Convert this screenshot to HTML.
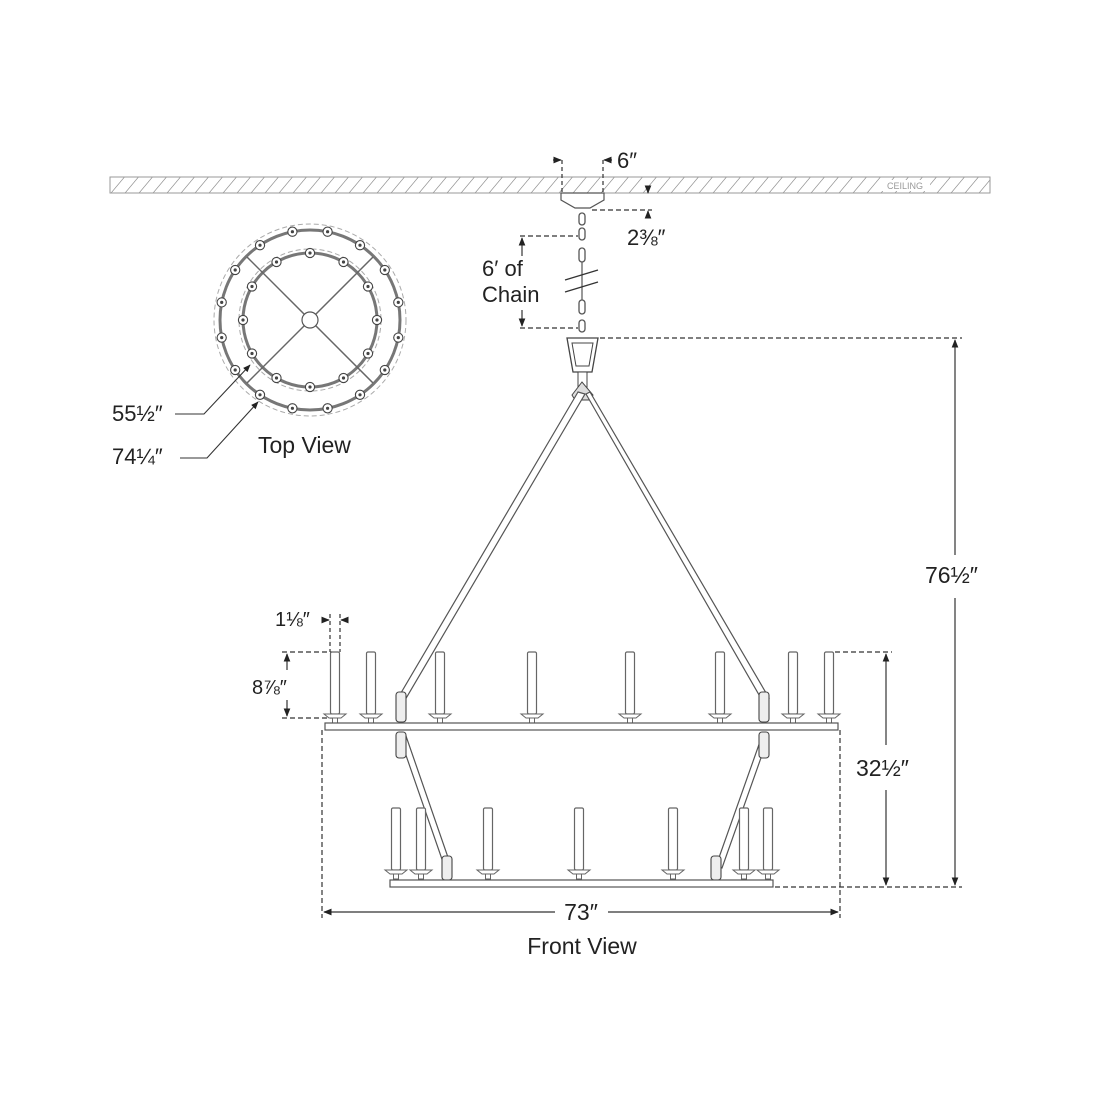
<!DOCTYPE html>
<html><head><meta charset="utf-8"><style>
html,body{margin:0;padding:0;background:#fff;width:1100px;height:1100px;overflow:hidden}
text{font-family:"Liberation Sans",sans-serif;fill:#222}
</style></head><body>
<svg width="1100" height="1100" viewBox="0 0 1100 1100" xmlns="http://www.w3.org/2000/svg">
<defs>
<pattern id="hatch" width="14" height="16" patternUnits="userSpaceOnUse" patternTransform="skewX(-40)">
<line x1="7" y1="0" x2="7" y2="16" stroke="#999" stroke-width="1"/>
</pattern>
<marker id="ar" viewBox="0 0 10 10" refX="9" refY="5" markerWidth="7" markerHeight="7" orient="auto-start-reverse"><path d="M0,1 L10,5 L0,9 z" fill="#222"/></marker>
<g id="candle"><rect x="-4.5" y="0" width="9" height="62" rx="1.5" fill="#fff" stroke="#666" stroke-width="1.2"/><path d="M-11,62 L11,62 L6,66 L-6,66 Z" fill="#fff" stroke="#666" stroke-width="1"/><rect x="-2.5" y="66" width="5" height="5" fill="#fff" stroke="#666" stroke-width="1"/></g>
<g id="bulb"><circle r="4.6" fill="#fff" stroke="#444" stroke-width="1.1"/><circle r="1.6" fill="#444"/></g>
</defs>

<rect x="110" y="177" width="880" height="16" fill="url(#hatch)" stroke="#999" stroke-width="1"/>
<rect x="880" y="180" width="50" height="11" fill="#fff"/>
<text x="905" y="189" font-size="9" text-anchor="middle" style="fill:#999">CEILING</text>

<g stroke="#333" stroke-width="1.2" fill="none">
<line x1="562" y1="160" x2="562" y2="193" stroke-dasharray="4,3"/>
<line x1="603" y1="160" x2="603" y2="193" stroke-dasharray="4,3"/>
<line x1="553" y1="160" x2="561" y2="160" marker-end="url(#ar)"/>
<line x1="612" y1="160" x2="604" y2="160" marker-end="url(#ar)"/>
<path d="M561,193 L604,193 L604,200 L590,208 L575,208 L561,200 Z" fill="#fff" stroke="#555"/>
<line x1="592" y1="210" x2="652" y2="210" stroke-dasharray="5,3"/>
<line x1="648" y1="186" x2="648" y2="193" marker-end="url(#ar)"/>
<line x1="648" y1="218" x2="648" y2="211" marker-end="url(#ar)"/>
<line x1="520" y1="236" x2="578" y2="236" stroke-dasharray="5,3"/>
<line x1="520" y1="328" x2="578" y2="328" stroke-dasharray="5,3"/>
<line x1="522" y1="256" x2="522" y2="238" marker-end="url(#ar)"/>
<line x1="522" y1="310" x2="522" y2="326" marker-end="url(#ar)"/>
</g>
<text x="617" y="168" font-size="22">6″</text>
<text x="627" y="245" font-size="22">2⅜″</text>
<text x="482" y="276" font-size="22">6′ of</text>
<text x="482" y="302" font-size="22">Chain</text>

<g stroke="#555" stroke-width="1.3" fill="#fff">
<rect x="579" y="213" width="6" height="12" rx="3"/>
<rect x="579" y="228" width="6" height="12" rx="3"/>
<rect x="579" y="248" width="6" height="14" rx="3"/>
<rect x="579" y="300" width="6" height="14" rx="3"/>
<rect x="579" y="320" width="6" height="12" rx="3"/>
</g>
<line x1="582" y1="262" x2="582" y2="300" stroke="#555" stroke-width="1.2"/>
<line x1="565" y1="280" x2="598" y2="270" stroke="#333" stroke-width="1.3"/>
<line x1="565" y1="292" x2="598" y2="282" stroke="#333" stroke-width="1.3"/>

<path d="M567,338 L598,338 L592,372 L573,372 Z" fill="#fff" stroke="#444" stroke-width="1.3"/>
<path d="M572,343 L593,343 L589,366 L576,366 Z" fill="none" stroke="#444" stroke-width="1"/>
<rect x="578" y="372" width="9" height="18" fill="#fff" stroke="#444"/>
<path d="M572,395 L582,382 L593,395 L590,400 L575,400 Z" fill="#ddd" stroke="#444"/>

<g stroke="#333" stroke-width="1.2" fill="none">
<line x1="600" y1="338" x2="962" y2="338" stroke-dasharray="5,3"/>
<line x1="955" y1="555" x2="955" y2="340" marker-end="url(#ar)"/>
<line x1="955" y1="598" x2="955" y2="885" marker-end="url(#ar)"/>
<line x1="775" y1="887" x2="962" y2="887" stroke-dasharray="5,3"/>
<line x1="835" y1="652" x2="892" y2="652" stroke-dasharray="5,3"/>
<line x1="886" y1="745" x2="886" y2="654" marker-end="url(#ar)"/>
<line x1="886" y1="790" x2="886" y2="885" marker-end="url(#ar)"/>
<line x1="322" y1="730" x2="322" y2="918" stroke-dasharray="5,3"/>
<line x1="840" y1="730" x2="840" y2="918" stroke-dasharray="5,3"/>
<line x1="555" y1="912" x2="324" y2="912" marker-end="url(#ar)"/>
<line x1="608" y1="912" x2="838" y2="912" marker-end="url(#ar)"/>
<line x1="330" y1="614" x2="330" y2="652" stroke-dasharray="4,3"/>
<line x1="340" y1="614" x2="340" y2="652" stroke-dasharray="4,3"/>
<line x1="322" y1="620" x2="329" y2="620" marker-end="url(#ar)"/>
<line x1="348" y1="620" x2="341" y2="620" marker-end="url(#ar)"/>
<line x1="282" y1="652" x2="332" y2="652" stroke-dasharray="5,3"/>
<line x1="282" y1="718" x2="332" y2="718" stroke-dasharray="5,3"/>
<line x1="287" y1="670" x2="287" y2="654" marker-end="url(#ar)"/>
<line x1="287" y1="700" x2="287" y2="716" marker-end="url(#ar)"/>
</g>
<text x="925" y="583" font-size="23">76½″</text>
<text x="856" y="776" font-size="23">32½″</text>
<text x="581" y="920" font-size="23" text-anchor="middle">73″</text>
<text x="582" y="954" font-size="23" text-anchor="middle">Front View</text>
<text x="275" y="626" font-size="20">1⅛″</text>
<text x="252" y="694" font-size="20">8⅞″</text>

<g stroke="#555" stroke-width="1.2" fill="#fff">
<path d="M578,392 L398,698 L405,700 L585,394 Z"/>
<path d="M586,394 L762,700 L769,698 L590,392 Z"/>
<path d="M400,738 L445,868 L451,866 L406,736 Z"/>
<path d="M762,736 L716,866 L722,868 L768,738 Z"/>
</g>
<g fill="#eee" stroke="#444" stroke-width="1.1">
<rect x="396" y="692" width="10" height="30" rx="3"/>
<rect x="759" y="692" width="10" height="30" rx="3"/>
<rect x="396" y="732" width="10" height="26" rx="3"/>
<rect x="759" y="732" width="10" height="26" rx="3"/>
<rect x="442" y="856" width="10" height="24" rx="3"/>
<rect x="711" y="856" width="10" height="24" rx="3"/>
</g>

<use href="#candle" x="335" y="652"/>
<use href="#candle" x="371" y="652"/>
<use href="#candle" x="440" y="652"/>
<use href="#candle" x="532" y="652"/>
<use href="#candle" x="630" y="652"/>
<use href="#candle" x="720" y="652"/>
<use href="#candle" x="793" y="652"/>
<use href="#candle" x="829" y="652"/>
<rect x="325" y="723" width="513" height="7" fill="#fff" stroke="#555" stroke-width="1.2"/>

<use href="#candle" x="396" y="808"/>
<use href="#candle" x="421" y="808"/>
<use href="#candle" x="488" y="808"/>
<use href="#candle" x="579" y="808"/>
<use href="#candle" x="673" y="808"/>
<use href="#candle" x="744" y="808"/>
<use href="#candle" x="768" y="808"/>
<rect x="390" y="880" width="383" height="7" fill="#fff" stroke="#555" stroke-width="1.2"/>

<g fill="none">
<circle cx="310" cy="320" r="96" stroke="#aaa" stroke-width="1" stroke-dasharray="5,3"/>
<circle cx="310" cy="320" r="90" stroke="#777" stroke-width="3"/>
<circle cx="310" cy="320" r="71" stroke="#aaa" stroke-width="1" stroke-dasharray="5,3"/>
<circle cx="310" cy="320" r="67" stroke="#777" stroke-width="3"/>
<line x1="247" y1="257" x2="373" y2="383" stroke="#666" stroke-width="1.5"/>
<line x1="373" y1="257" x2="247" y2="383" stroke="#666" stroke-width="1.5"/>
</g>
<circle cx="310" cy="320" r="8" fill="#fff" stroke="#555" stroke-width="1.2"/>
<use href="#bulb" x="292.4" y="231.7"/><use href="#bulb" x="327.6" y="231.7"/>
<use href="#bulb" x="292.4" y="408.3"/><use href="#bulb" x="327.6" y="408.3"/>
<use href="#bulb" x="260" y="245.2"/><use href="#bulb" x="360" y="245.2"/>
<use href="#bulb" x="260" y="394.8"/><use href="#bulb" x="360" y="394.8"/>
<use href="#bulb" x="235.2" y="270"/><use href="#bulb" x="384.8" y="270"/>
<use href="#bulb" x="235.2" y="370"/><use href="#bulb" x="384.8" y="370"/>
<use href="#bulb" x="221.7" y="302.4"/><use href="#bulb" x="398.3" y="302.4"/>
<use href="#bulb" x="221.7" y="337.6"/><use href="#bulb" x="398.3" y="337.6"/>
<use href="#bulb" x="310" y="253"/><use href="#bulb" x="310" y="387"/>
<use href="#bulb" x="243" y="320"/><use href="#bulb" x="377" y="320"/>
<use href="#bulb" x="276.5" y="262"/><use href="#bulb" x="343.5" y="262"/>
<use href="#bulb" x="276.5" y="378"/><use href="#bulb" x="343.5" y="378"/>
<use href="#bulb" x="252" y="286.5"/><use href="#bulb" x="368" y="286.5"/>
<use href="#bulb" x="252" y="353.5"/><use href="#bulb" x="368" y="353.5"/>
<g stroke="#333" stroke-width="1.1" fill="none">
<polyline points="175,414 204,414 250,365" marker-end="url(#ar)"/>
<polyline points="180,458 207,458 258,402" marker-end="url(#ar)"/>
</g>
<text x="112" y="421" font-size="22">55½″</text>
<text x="112" y="464" font-size="22">74¼″</text>
<text x="258" y="453" font-size="23">Top View</text>
</svg>
</body></html>
